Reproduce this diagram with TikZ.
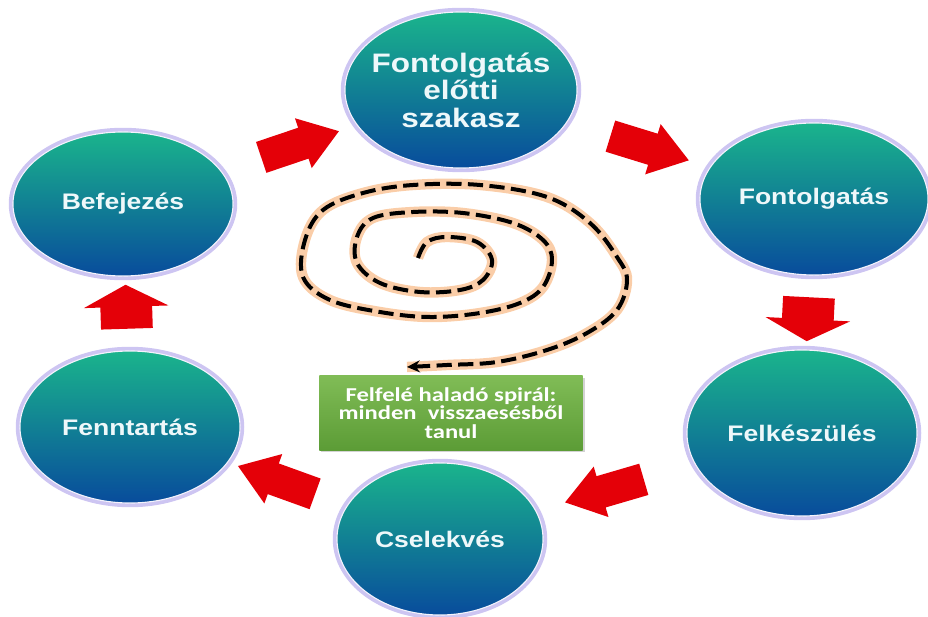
\documentclass[tikz,border=0pt]{standalone}
\usepackage{fontspec}
\newfontfamily\stagefont{Liberation Sans}[FakeStretch=1.18]
\newfontfamily\notefont{Carlito}[FakeStretch=1.25]
\usepackage[dvipsnames]{xcolor}
\definecolor{colorStageTop}{RGB}{26,180,140}
\definecolor{colorStageMid}{RGB}{22,150,172}
\definecolor{colorStageBot}{RGB}{8,76,156}
\definecolor{colorGlow}{RGB}{184,172,236}
\definecolor{colorArrow}{RGB}{228,0,8}
\definecolor{colorSpiral}{RGB}{250,200,158}
\definecolor{colorNoteTop}{RGB}{128,188,86}
\definecolor{colorNoteBot}{RGB}{92,156,54}
\definecolor{colorText}{RGB}{238,248,250}
\usepackage{tikz}
\usetikzlibrary{arrows.meta, shapes.geometric, shapes.arrows, shadows}
\tikzset{stagetext/.style={font=\stagefont\bfseries\fontsize{16}{18}\selectfont, text=colorText}}

\begin{document}
\begin{tikzpicture}[x=0.025cm, y=-0.025cm,
  stage/.style={ellipse, stagetext, align=center, top color=colorStageTop, middle color=colorStageMid, bottom color=colorStageBot, draw=white!85!colorGlow, line width=0.8pt, preaction={draw=colorGlow, line width=6pt, opacity=0.7}, inner sep=0pt, minimum width=5.6cm, minimum height=3.8cm},
  bigarrow/.style={single arrow, fill=colorArrow, sloped, allow upside down, inner xsep=0pt, inner ysep=0.4cm, minimum width=0pt, minimum height=2.05cm, single arrow head extend=0.25cm, single arrow tip angle=70},
  flatarrow/.style={bigarrow, inner ysep=0.64cm, minimum height=1.1cm, single arrow head extend=0.41cm, single arrow tip angle=125},
  spiral/.style={line width=0.1cm, dash pattern=on 0.38cm off 0.16cm, -{Stealth[length=0.32cm, width=0.3cm]}, preaction={draw=colorSpiral, line width=0.26cm, solid, -, opacity=0.9}},
  notebox/.style={rectangle, top color=colorNoteTop, bottom color=colorNoteBot, minimum width=6.575cm, minimum height=1.85cm, text=white, align=center, font=\notefont\bfseries\fontsize{14}{13}\selectfont, drop shadow={opacity=0.35, shadow xshift=0.05cm, shadow yshift=-0.06cm}}]
\useasboundingbox (0,0) rectangle (928,617);
\node[stage, font=\stagefont\bfseries\fontsize{19}{19.5}\selectfont, inner xsep=-4mm, minimum width=5.8cm, minimum height=3.9cm] (s0) at (461,90) {Fontolgatás\\előtti\\szakasz};
\node[stage, minimum width=5.7cm] (s1) at (814,199) {Fontolgatás};
\node[stage, minimum width=5.75cm, minimum height=4.15cm] (s2) at (802,433) {Felkészülés};
\node[stage, minimum width=5.15cm] (s3) at (440,539) {Cselekvés};
\node[stage, minimum width=5.5cm] (s4) at (130,427) {Fenntartás};
\node[stage, minimum width=5.5cm, minimum height=3.6cm] (s5) at (123,204) {Befejezés};
\path (s5) -- node[bigarrow] (a50) {} (s0);
\path (s0) -- node[bigarrow] (a01) {} (s1);
\path (s1) -- node[flatarrow] (a12) {} (s2);
\path (s2) -- node[bigarrow] (a23) {} (s3);
\path (s3) -- node[bigarrow] (a34) {} (s4);
\path (s4) -- node[flatarrow] (a45) {} (s5);
\draw[spiral] plot[smooth, tension=0.6] coordinates {(418,258) (427,242) (447,237) (477,242) (492,260) (483,280) (460,290) (420,292) (380,283) (357,263) (357,237) (373,218) (413,212) (463,213) (513,223) (543,240) (552,260) (543,287) (520,303) (480,313) (430,317) (380,312) (330,300) (303,277) (305,240) (323,210) (363,193) (413,185) (480,185) (547,197) (590,223) (617,257) (627,280) (617,310) (587,333) (547,350) (497,362) (447,365) (407,367)};
\node[notebox] (note) at (451,413) {Felfelé haladó spirál:\\minden\ \ visszaesésből\\tanul};
\end{tikzpicture}
\end{document}
